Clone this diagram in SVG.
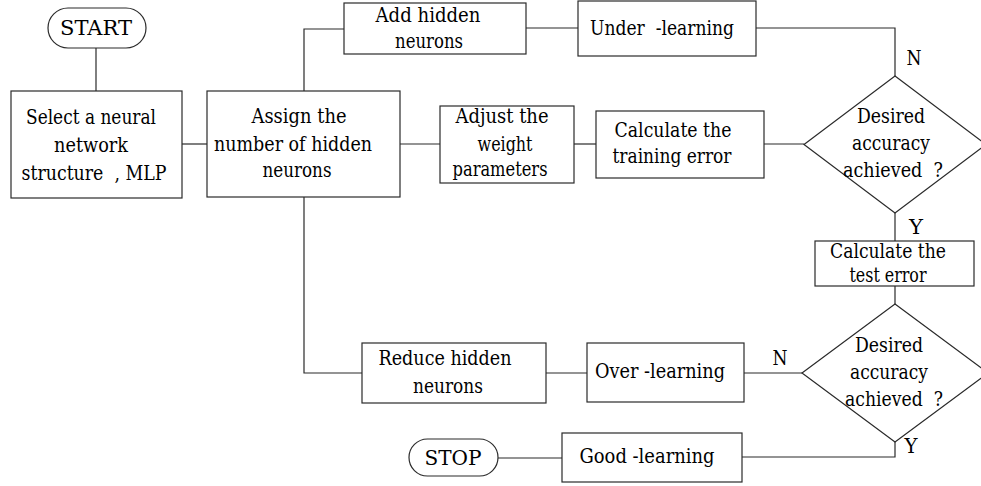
<svg xmlns="http://www.w3.org/2000/svg" width="981" height="486" viewBox="0 0 981 486">
<style>
.s{fill:#fff;stroke:#2a2a2a;stroke-width:1.2}
.c{fill:none;stroke:#2a2a2a;stroke-width:1.2}
text{font-family:"DejaVu Serif","Liberation Serif",serif;font-size:20px;fill:#000;text-anchor:middle;white-space:pre}
</style>
<rect width="981" height="486" fill="#fff"/>
<g id="connectors">
<path class="c" d="M96,48V91"/>
<path class="c" d="M182,144H207"/>
<path class="c" d="M304,91V29H344"/>
<path class="c" d="M526,28H578"/>
<path class="c" d="M756,28H895V76"/>
<path class="c" d="M400,144H440"/>
<path class="c" d="M574,144H596"/>
<path class="c" d="M764,144H804"/>
<path class="c" d="M895,213V241"/>
<path class="c" d="M895,286V304"/>
<path class="c" d="M304,197V373H362"/>
<path class="c" d="M546,373H587"/>
<path class="c" d="M744,373H802"/>
<path class="c" d="M895,442V457H742"/>
<path class="c" d="M562,458H498"/>
</g>
<g id="start"><rect class="s" x="48" y="8" width="98" height="40" rx="20"/><text x="96" y="35" textLength="72" lengthAdjust="spacingAndGlyphs">START</text></g>
<g id="select"><rect class="s" x="11" y="91" width="171" height="107"/><text x="91" y="124" textLength="130" lengthAdjust="spacingAndGlyphs">Select a neural</text><text x="91" y="152" textLength="74" lengthAdjust="spacingAndGlyphs">network</text><text x="94" y="180" xml:space="preserve" textLength="145" lengthAdjust="spacingAndGlyphs">structure  , MLP</text></g>
<g id="assign"><rect class="s" x="207" y="91" width="193" height="106"/><text x="299" y="123" textLength="95" lengthAdjust="spacingAndGlyphs">Assign the</text><text x="293" y="151" textLength="158" lengthAdjust="spacingAndGlyphs">number of hidden</text><text x="297" y="177" textLength="69" lengthAdjust="spacingAndGlyphs">neurons</text></g>
<g id="add"><rect class="s" x="344" y="3" width="182" height="51"/><text x="428" y="22" textLength="105" lengthAdjust="spacingAndGlyphs">Add hidden</text><text x="429" y="48" textLength="68" lengthAdjust="spacingAndGlyphs">neurons</text></g>
<g id="under"><rect class="s" x="578" y="1" width="178" height="55"/><text x="662" y="35" xml:space="preserve" textLength="144" lengthAdjust="spacingAndGlyphs">Under  -learning</text></g>
<g id="adjust"><rect class="s" x="440" y="106" width="134" height="77"/><text x="502" y="123" textLength="93" lengthAdjust="spacingAndGlyphs">Adjust the</text><text x="505" y="151" textLength="55" lengthAdjust="spacingAndGlyphs">weight</text><text x="500" y="176" textLength="95" lengthAdjust="spacingAndGlyphs">parameters</text></g>
<g id="calc-train"><rect class="s" x="596" y="111" width="168" height="67"/><text x="673" y="137" textLength="117" lengthAdjust="spacingAndGlyphs">Calculate the</text><text x="672" y="163" textLength="119" lengthAdjust="spacingAndGlyphs">training error</text></g>
<g id="decision1"><polygon class="s" points="895,76 986,144.5 895,213 804,144.5"/><text x="891" y="123" textLength="68" lengthAdjust="spacingAndGlyphs">Desired</text><text x="891" y="150" textLength="78" lengthAdjust="spacingAndGlyphs">accuracy</text><text x="893" y="177" xml:space="preserve" textLength="100" lengthAdjust="spacingAndGlyphs">achieved  ?</text><text x="914" y="65" textLength="15" lengthAdjust="spacingAndGlyphs">N</text><text x="916" y="234" textLength="14" lengthAdjust="spacingAndGlyphs">Y</text></g>
<g id="calc-test"><rect class="s" x="815" y="241" width="159" height="45"/><text x="888" y="258" textLength="116" lengthAdjust="spacingAndGlyphs">Calculate the</text><text x="888" y="282" textLength="77" lengthAdjust="spacingAndGlyphs">test error</text></g>
<g id="decision2"><polygon class="s" points="895,304 988,373 895,442 802,373"/><text x="889" y="352" textLength="68" lengthAdjust="spacingAndGlyphs">Desired</text><text x="889" y="379" textLength="78" lengthAdjust="spacingAndGlyphs">accuracy</text><text x="894" y="406" xml:space="preserve" textLength="98" lengthAdjust="spacingAndGlyphs">achieved  ?</text><text x="780" y="365" textLength="15" lengthAdjust="spacingAndGlyphs">N</text><text x="911" y="453" textLength="13" lengthAdjust="spacingAndGlyphs">Y</text></g>
<g id="reduce"><rect class="s" x="362" y="343" width="184" height="60"/><text x="445" y="365" textLength="133" lengthAdjust="spacingAndGlyphs">Reduce hidden</text><text x="448" y="393" textLength="70" lengthAdjust="spacingAndGlyphs">neurons</text></g>
<g id="over"><rect class="s" x="587" y="343" width="157" height="59"/><text x="660" y="378" textLength="130" lengthAdjust="spacingAndGlyphs">Over -learning</text></g>
<g id="good"><rect class="s" x="562" y="433" width="180" height="49"/><text x="647" y="463" textLength="135" lengthAdjust="spacingAndGlyphs">Good -learning</text></g>
<g id="stop"><rect class="s" x="409" y="439" width="89" height="37" rx="18.5"/><text x="453" y="465" textLength="57" lengthAdjust="spacingAndGlyphs">STOP</text></g>
</svg>
